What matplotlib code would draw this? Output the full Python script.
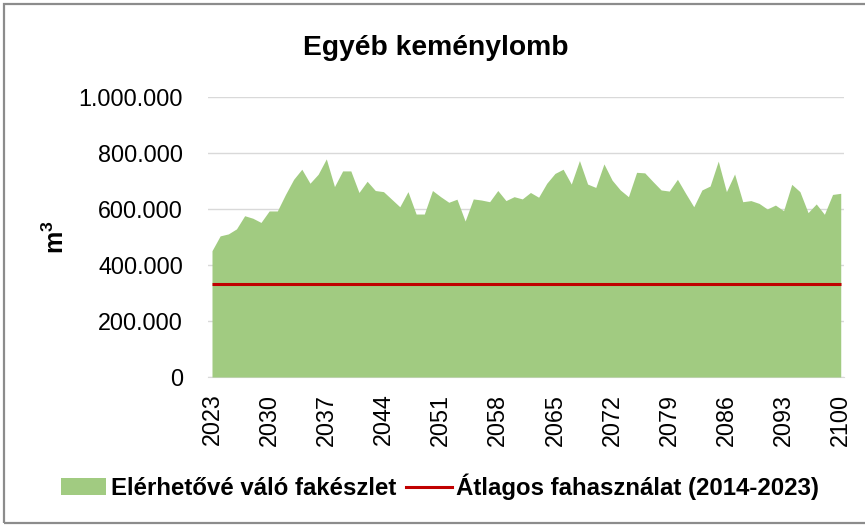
import matplotlib
matplotlib.use("Agg")
import matplotlib.pyplot as plt
from matplotlib import font_manager
from matplotlib.patches import Patch, Rectangle
from matplotlib.lines import Line2D
from matplotlib.ticker import FuncFormatter, FixedLocator

# ---- data ----
years = list(range(2023, 2101))
available = [
    451000, 504000, 511000, 529000, 576000, 567000, 552000, 593000, 593000, 652000,
    706000, 742000, 692000, 724000, 779000, 680000, 736000, 736000, 659000, 699000,
    666000, 662000, 635000, 608000, 662000, 582000, 582000, 666000, 644000, 624000,
    635000, 557000, 636000, 632000, 626000, 666000, 630000, 644000, 636000, 659000,
    642000, 692000, 727000, 742000, 689000, 773000, 689000, 677000, 761000, 703000,
    668000, 644000, 731000, 729000, 698000, 668000, 664000, 706000, 656000, 608000,
    668000, 682000, 771000, 662000, 725000, 626000, 630000, 620000, 600000, 614000,
    594000, 688000, 662000, 587000, 618000, 581000, 652000, 656000,
]
avg_use = 332000
tick_years = list(range(2023, 2101, 7))
y_ticks = [0, 200000, 400000, 600000, 800000, 1000000]
title = "Egyéb keménylomb"
ylabel = r"$\mathbf{m^3}$"
legend_labels = ["Elérhetővé váló fakészlet", "Átlagos fahasználat (2014-2023)"]

names = {f.name for f in font_manager.fontManager.ttflist}
NARROW = "Liberation Sans Narrow" in names
fam = "Liberation Sans Narrow" if NARROW else "Liberation Sans"
if NARROW:
    s_tick, s_leg, s_title, s_ylab = 20.5, 20.5, 23, 20
else:
    s_tick, s_leg, s_title, s_ylab = 16.8, 17.3, 20.3, 18
plt.rcParams["font.family"] = [fam, "DejaVu Sans"]
plt.rcParams["mathtext.fontset"] = "custom"
plt.rcParams["mathtext.rm"] = fam
plt.rcParams["mathtext.bf"] = fam + ":bold"

W, H = 865, 527
fig = plt.figure(figsize=(W / 100, H / 100), dpi=100)
ax = fig.add_axes([208 / W, 1 - 377 / H, (844 - 208) / W, (377 - 97) / H])

green = "#A1CB81"
red = "#C00000"
ax.fill_between(years, available, 0, color=green, linewidth=0, zorder=2)
ax.plot([years[0], years[-1]], [avg_use, avg_use], color=red, lw=2.2, zorder=3,
        solid_capstyle="butt")

ax.set_xlim(2022.51, 2100.4)
ax.set_ylim(0, 1000000)
ax.yaxis.set_major_locator(FixedLocator(y_ticks))
ax.yaxis.set_major_formatter(FuncFormatter(lambda v, p: f"{int(v):,}".replace(",", ".")))
ax.set_xticks(tick_years)
ax.set_xticklabels([str(y) for y in tick_years], rotation=90)
ax.grid(axis="y", color="#D9D9D9", lw=1.0, zorder=0)
ax.set_axisbelow(True)
for s in ["top", "right", "left"]:
    ax.spines[s].set_visible(False)
ax.spines["bottom"].set_color("#D9D9D9")
ax.spines["bottom"].set_zorder(1)
ax.tick_params(axis="y", length=0, pad=18, labelsize=s_tick, colors="black")
ax.tick_params(axis="x", length=0, pad=12, labelsize=s_tick, colors="black")
for lab in ax.get_xticklabels():
    lab.set_va("top")

fig.text(436 / W, 1 - 55 / H, title, ha="center", va="baseline",
         fontsize=s_title, fontweight="bold")
fig.text(56 / W, 1 - 237 / H, ylabel, ha="center", va="center", rotation=90,
         fontsize=s_ylab, fontweight="bold")

handles = [Patch(facecolor=green, edgecolor="none"),
           Line2D([0], [0], color=red, lw=2.2)]
leg = fig.legend(handles, legend_labels, loc="center",
                 bbox_to_anchor=(440 / W, 1 - 487 / H), ncol=2, frameon=False,
                 prop={"weight": "bold", "size": s_leg, "family": [fam, "DejaVu Sans"]},
                 handlelength=1.9, handleheight=0.7, handletextpad=0.2,
                 columnspacing=0.4, borderaxespad=0)

fig.patches.append(Rectangle((4 / W, 1 - 523 / H), (W + 10) / W, (523 - 4) / H,
                             transform=fig.transFigure, fill=False,
                             edgecolor="#8C8C8C", lw=1.6))

fig.savefig("out.png", dpi=100, facecolor="white")
